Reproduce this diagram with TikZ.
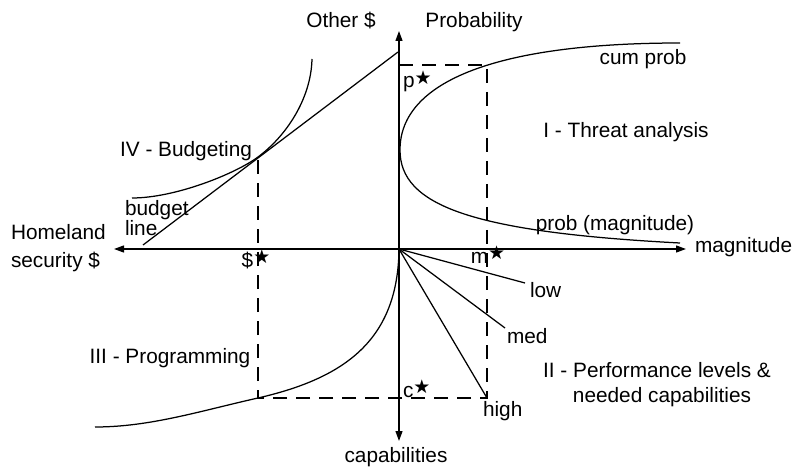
\documentclass[tikz,border=0pt]{standalone}
\usepackage{fontspec}
\setmainfont{Liberation Sans}
\newfontfamily\symfont{DejaVu Sans}
\usetikzlibrary{arrows.meta}
\newcommand{\stm}{\raisebox{0.35ex}{\symfont\fontsize{19}{19}\selectfont ★}}
\begin{document}
\begin{tikzpicture}[x=1pt,y=-1pt,line width=1.25pt,
  lbl/.style={inner sep=0pt,outer sep=0pt,font=\fontsize{20.8}{25}\selectfont},
  axisline/.style={-{Triangle[length=10pt,width=7pt]}},
  dashline/.style={dash pattern=on 14pt off 9pt,line width=1.2pt}]
\useasboundingbox (0,0) rectangle (796,468);
% axes
\coordinate (O) at (399,249);
\coordinate (Ytop) at (399,31);
\coordinate (Ybot) at (399,441);
\coordinate (Xl) at (114,249);
\coordinate (Xr) at (686,249);
\draw[axisline] (O) -- (Ytop);
\draw[axisline] (O) -- (Ybot);
\draw[axisline] (O) -- (Xl);
\draw[axisline] (O) -- (Xr);
% key points
\coordinate (T) at (258,157);
\coordinate (K) at (258,398);
\coordinate (P) at (399,65);
\coordinate (Mt) at (487,65);
\coordinate (Mb) at (487,398);
\coordinate (V) at (400,150);
% budget line and indifference curve
\coordinate (B1) at (398,52);
\coordinate (B2) at (143,245);
\draw (B1) -- (B2);
\coordinate (I1) at (312,59);
\coordinate (I2) at (132,198);
\draw (I1) .. controls (311,100) and (285,137) .. (T)
      .. controls (235,174) and (175,198) .. (I2);
% quadrant I curve
\coordinate (Cup) at (680,43);
\coordinate (Clow) at (680,243);
\draw (Cup) .. controls (500,43) and (400,80) .. (V)
      .. controls (400,205) and (470,232) .. (Clow);
% quadrant III curve
\coordinate (E3) at (95,427);
\draw (O) .. controls (398,340) and (345,378) .. (K)
      .. controls (200,411) and (150,427) .. (E3);
% quadrant II rays
\coordinate (Low) at (525,283);
\coordinate (Med) at (505,328);
\draw (O) -- (Low);
\draw (O) -- (Med);
\draw (O) -- (Mb);
% dashed guides
\draw[dashline] (P) -- (Mt) -- (Mb) -- (K) -- (T);
% labels
\node[lbl,anchor=base] (lother) at (341,28) {Other \$};
\node[lbl,anchor=base] (lprob) at (474,28) {Probability};
\node[lbl,anchor=base] (lcum) at (643,65) {cum prob};
\node[lbl,anchor=base] (lthreat) at (626,138) {I - Threat analysis};
\node[lbl,anchor=base] (lpm) at (615,231) {prob (magnitude)};
\node[lbl,anchor=base west] (lmag) at (695,253) {magnitude};
\node[lbl,anchor=base west] (lhome) at (11,240) {Homeland};
\node[lbl,anchor=base west] (lsec) at (11,267) {security \$};
\node[lbl,anchor=base west] (lbud) at (125,215) {budget};
\node[lbl,anchor=base west] (lline) at (125,236) {line};
\node[lbl,anchor=base] (lIV) at (186,157) {IV - Budgeting};
\node[lbl,anchor=base] (lIII) at (170,363) {III - Programming};
\node[lbl,anchor=base] (ldol) at (256,267) {\$\stm};
\node[lbl,anchor=base] (lm) at (488,263) {m\stm};
\node[lbl,anchor=base west] (lp) at (403,88) {p\stm};
\node[lbl,anchor=base west] (lc) at (403,397) {c\stm};
\node[lbl,anchor=base west] (llow) at (530,298) {low};
\node[lbl,anchor=base west] (lmed) at (507,343) {med};
\node[lbl,anchor=base west] (lhigh) at (483,416) {high};
\node[lbl,anchor=base] (lII) at (657,377) {II - Performance levels \&};
\node[lbl,anchor=base] (lneed) at (662,402) {needed capabilities};
\node[lbl,anchor=base] (lcap) at (396,462) {capabilities};
\end{tikzpicture}
\end{document}
